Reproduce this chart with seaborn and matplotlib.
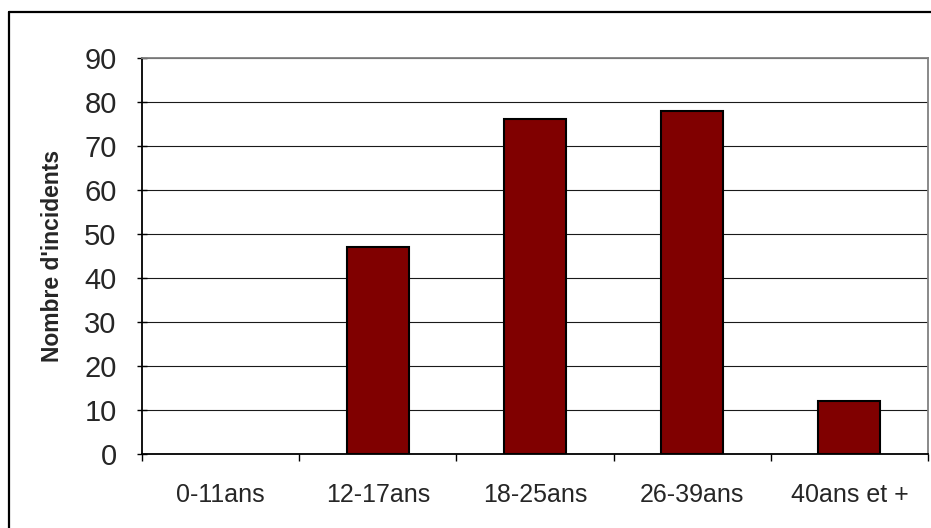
import matplotlib
matplotlib.use("Agg")
import matplotlib.pyplot as plt
import seaborn as sns
import pandas as pd
from matplotlib.lines import Line2D
from matplotlib.ticker import FixedLocator

categories = ["0-11ans", "12-17ans", "18-25ans", "26-39ans", "40ans et +"]
values = [0, 47, 76, 78, 12]
y_ticks = [0, 10, 20, 30, 40, 50, 60, 70, 80, 90]
y_label = "Nombre d'incidents"

sns.set_theme(style="white")
plt.rcParams['font.family'] = ['Liberation Sans', 'DejaVu Sans']

df = pd.DataFrame({"cat": categories, "val": values})

fig = plt.figure(figsize=(9.31, 5.28), dpi=100)
ax = fig.add_axes([142/931, 1-454/528, (928-142)/931, (454-57.7)/528])

sns.barplot(data=df, x="cat", y="val", ax=ax, color="#800000",
            edgecolor="black", linewidth=1.5, width=0.395, saturation=1)
for p in ax.patches:
    if p.get_height() == 0:
        p.set_visible(False)

ax.set_xlim(-0.5, 4.5)
ax.set_ylim(0, 90)
ax.set_yticks(y_ticks)
ax.set_yticklabels([str(t) for t in y_ticks], fontsize=21)
ax.tick_params(axis='y', direction='inout', length=6.5, width=1, color='black', pad=15, left=True)

ax.set_xticks(range(len(categories)))
ax.set_xticklabels(categories, fontsize=18)
ax.tick_params(axis='x', which='major', length=0, pad=21)
ax.xaxis.set_minor_locator(FixedLocator([i - 0.5 for i in range(len(categories) + 1)]))
ax.tick_params(axis='x', which='minor', direction='out', length=5, width=1, color='black', bottom=True)

ax.set_xlabel("")
ax.set_ylabel(y_label, fontsize=16.5, fontweight='bold')
ax.yaxis.set_label_coords(-0.099, 0.5)

ax.yaxis.grid(True, color='#1a1a1a', linewidth=0.8)
ax.set_axisbelow(True)

for s in ['left', 'bottom']:
    ax.spines[s].set_color('black')
    ax.spines[s].set_linewidth(1.3)
for s in ['top', 'right']:
    ax.spines[s].set_visible(True)
    ax.spines[s].set_color('#808080')
    ax.spines[s].set_linewidth(1.3)

# figure border (left and top visible)
fig.add_artist(Line2D([8.5/931, 8.5/931], [0, 1-12/528], transform=fig.transFigure, color='black', linewidth=1.6))
fig.add_artist(Line2D([8.5/931, 1], [1-12/528, 1-12/528], transform=fig.transFigure, color='black', linewidth=1.6))

fig.savefig("out.png", dpi=100)
